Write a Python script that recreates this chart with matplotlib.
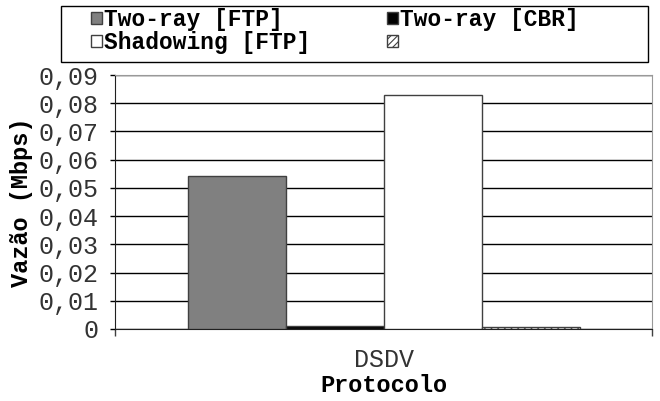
import matplotlib.pyplot as plt
from matplotlib.patches import Rectangle, Patch

# data
protocols = ["DSDV"]
series = ["Two-ray [FTP]", "Two-ray [CBR]", "Shadowing [FTP]", ""]
values = [0.0543, 0.0012, 0.0828, 0.0007]
y_ticks = [0, 0.01, 0.02, 0.03, 0.04, 0.05, 0.06, 0.07, 0.08, 0.09]

face = ["#808080", "#000000", "#ffffff", "#ffffff"]
hatch = [None, None, None, "/////"]

plt.rcParams["font.family"] = ["Liberation Mono", "DejaVu Sans Mono"]
plt.rcParams["hatch.linewidth"] = 0.8

W, H = 660, 401
fig = plt.figure(figsize=(W / 100, H / 100), dpi=100)

# plot area in pixels: x 115..652, y 75..329
ax = fig.add_axes([115 / W, (H - 329) / H, (652 - 115) / W, (329 - 75) / H])

bw = 98 / 537
n = len(series)
for i, (lab, v) in enumerate(zip(series, values)):
    x = (i - (n - 1) / 2) * bw
    ax.bar(x, v, width=bw, color=face[i], edgecolor="#404040", linewidth=1,
           hatch=hatch[i], zorder=3)

ax.set_xlim(-0.5, 0.5)
ax.set_ylim(0, 0.09)
ax.set_yticks(y_ticks)
ax.set_yticklabels([("%.2f" % t).replace(".", ",") if t else "0" for t in y_ticks])
ax.yaxis.grid(True, color="black", linewidth=1)
ax.set_axisbelow(True)

# category ticks at the group boundaries, label in the middle
ax.set_xticks([-0.5, 0.5])
ax.set_xticklabels(["", ""])
ax.set_xticks([0], minor=True)
ax.set_xticklabels(protocols, minor=True)
ax.tick_params(axis="x", which="major", length=5, width=1, color="#404040")
ax.tick_params(axis="x", which="minor", length=0, pad=14, labelsize=18,
               labelcolor="#333333")
ax.tick_params(axis="y", length=3.6, width=1, labelsize=18, labelcolor="#333333",
               pad=8)

for s in ["top", "right"]:
    ax.spines[s].set_color("#999999")
ax.spines["left"].set_color("#202020")
ax.spines["bottom"].set_color("#202020")

ax.set_xlabel("Protocolo", fontsize=17, fontweight="bold", labelpad=1)
ax.set_ylabel("Vazão (Mbps)", fontsize=17, fontweight="bold", labelpad=4)

# legend box
fig.patches.append(Rectangle((61 / W, (H - 62) / H), (648 - 61) / W, 56 / H,
                             transform=fig.transFigure, facecolor="white",
                             edgecolor="black", linewidth=1))
order = [0, 2, 1, 3]  # row-wise like the original
handles = [Patch(facecolor=face[i], edgecolor="#404040", hatch=hatch[i])
           for i in order]
fig.legend(handles, [series[i] for i in order], ncol=2, frameon=False,
           loc="upper left", bbox_to_anchor=(91 / W, 1 - 8 / H), borderpad=0,
           borderaxespad=0, prop={"size": 16.5, "weight": "bold"},
           handlelength=0.47, handleheight=0.47, handletextpad=0.1,
           columnspacing=3.35, labelspacing=0.0)

fig.savefig("out.png", dpi=100)
